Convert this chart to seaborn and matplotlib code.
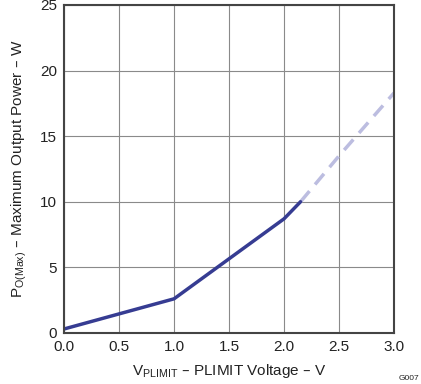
import pandas as pd
import matplotlib.pyplot as plt
import seaborn as sns

# measured part (solid)
v_meas = [0.0, 0.5, 1.0, 1.5, 2.0, 2.15]
p_meas = [0.3, 1.45, 2.6, 5.65, 8.7, 10.0]

# extrapolated part (dashed)
v_ext = [2.15, 2.5, 3.0]
p_ext = [10.0, 13.5, 18.3]

x_ticks = [0.0, 0.5, 1.0, 1.5, 2.0, 2.5, 3.0]
y_ticks = [0, 5, 10, 15, 20, 25]

sns.set_style('white')
plt.rcParams['font.family'] = ['Liberation Sans', 'DejaVu Sans']
plt.rcParams['mathtext.default'] = 'regular'

df_meas = pd.DataFrame({'v': v_meas, 'p': p_meas})
df_ext = pd.DataFrame({'v': v_ext, 'p': p_ext})

fig = plt.figure(figsize=(4.21, 3.84), dpi=100)
ax = fig.add_axes([0.152, 0.133, 0.784, 0.854])

sns.lineplot(data=df_ext, x='v', y='p', ax=ax, color='#bcbde0', linewidth=2.5,
             linestyle=(0, (4, 2.5)))
sns.lineplot(data=df_meas, x='v', y='p', ax=ax, color='#363c92', linewidth=2.5)

ax.set_xlim(0, 3)
ax.set_ylim(0, 25)
ax.set_xticks(x_ticks)
ax.set_xticklabels(['%.1f' % t for t in x_ticks])
ax.set_yticks(y_ticks)
ax.grid(True, color='#8a8a8a', linewidth=0.8)
ax.tick_params(length=0, labelsize=11, colors='#222222', pad=5)
for s in ax.spines.values():
    s.set_color('#444444')
    s.set_linewidth(1.5)

ax.set_xlabel('V$_{PLIMIT}$ – PLIMIT Voltage – V', fontsize=11, color='#222222', labelpad=6)
ax.set_ylabel('P$_{O(Max)}$ – Maximum Output Power – W', fontsize=11, color='#222222', labelpad=8)

fig.text(0.995, 0.005, 'G007', fontsize=6, ha='right', va='bottom', color='#222222')

fig.savefig('out.png', dpi=100)
